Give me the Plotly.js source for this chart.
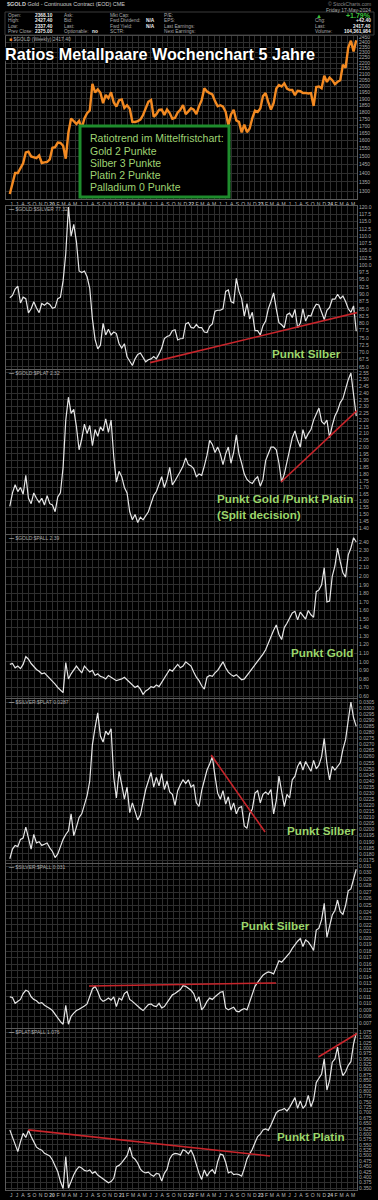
<!DOCTYPE html>
<html><head><meta charset="utf-8">
<script src="https://cdn.plot.ly/plotly-3.0.1.min.js"></script>
<style>html,body{margin:0;padding:0;background:#000;}#chart{width:378px;height:1200px;}</style>
</head><body><div id="chart"></div>
<script>
// ---------- DATA (bi-weekly closes) ----------
const dates = ['2019-05-24','2019-06-07','2019-06-21','2019-07-05','2019-07-19','2019-08-02','2019-08-16','2019-08-30','2019-09-13','2019-09-27',
'2019-10-11','2019-10-25','2019-11-08','2019-11-22','2019-12-06','2019-12-20','2020-01-03','2020-01-17','2020-01-31','2020-02-14',
'2020-02-28','2020-03-13','2020-03-27','2020-04-10','2020-04-24','2020-05-08','2020-05-22','2020-06-05','2020-06-19','2020-07-03',
'2020-07-17','2020-07-31','2020-08-14','2020-08-28','2020-09-11','2020-09-25','2020-10-09','2020-10-23','2020-11-06','2020-11-20',
'2020-12-04','2020-12-18','2021-01-01','2021-01-15','2021-01-29','2021-02-12','2021-02-26','2021-03-12','2021-03-26','2021-04-09',
'2021-04-23','2021-05-07','2021-05-21','2021-06-04','2021-06-18','2021-07-02','2021-07-16','2021-07-30','2021-08-13','2021-08-27',
'2021-09-10','2021-09-24','2021-10-08','2021-10-22','2021-11-05','2021-11-19','2021-12-03','2021-12-17','2021-12-31','2022-01-14',
'2022-01-28','2022-02-11','2022-02-25','2022-03-11','2022-03-25','2022-04-08','2022-04-22','2022-05-06','2022-05-20','2022-06-03',
'2022-06-17','2022-07-01','2022-07-15','2022-07-29','2022-08-12','2022-08-26','2022-09-09','2022-09-23','2022-10-07','2022-10-21',
'2022-11-04','2022-11-18','2022-12-02','2022-12-16','2022-12-30','2023-01-13','2023-01-27','2023-02-10','2023-02-24','2023-03-10',
'2023-03-24','2023-04-07','2023-04-21','2023-05-05','2023-05-19','2023-06-02','2023-06-16','2023-06-30','2023-07-14','2023-07-28',
'2023-08-11','2023-08-25','2023-09-08','2023-09-22','2023-10-06','2023-10-20','2023-11-03','2023-11-17','2023-12-01','2023-12-15',
'2023-12-29','2024-01-12','2024-01-26','2024-02-09','2024-02-23','2024-03-08','2024-03-22','2024-04-05','2024-04-19','2024-05-03',
'2024-05-17'];

const gold = [1284,1346,1400,1400,1427,1457,1524,1529,1499,1496,
1489,1505,1459,1463,1465,1481,1553,1557,1587,1584,
1566,1485,1654,1752,1735,1713,1735,1683,1753,1790,
1810,2020,1950,1975,1948,1866,1930,1905,1952,1872,
1840,1888,1895,1830,1850,1824,1728,1727,1733,1744,
1777,1831,1877,1891,1764,1783,1815,1817,1778,1818,
1792,1750,1757,1796,1816,1852,1783,1804,1828,1817,
1784,1842,1889,1985,1958,1945,1934,1882,1842,1850,
1840,1801,1703,1781,1816,1738,1728,1655,1709,1656,
1681,1754,1809,1800,1826,1921,1945,1874,1817,1867,
1983,2011,1999,2025,1981,1970,1971,1929,1964,1960,
1946,1947,1942,1945,1845,1994,1999,1984,2089,2036,
2072,2051,2018,2038,2050,2186,2159,2345,2413,2308,
2417];

const goldSilver = [88.8,89.6,91.8,92.8,87.0,89.0,88.5,83.6,85.0,87.4,
85.3,83.7,86.8,86.2,87.1,86.5,85.2,85.5,88.5,89.0,
94.6,104,120,110,114,108,98,97.5,98,96,
92,81.5,74.5,71.2,72.5,80,76,78,76,77,
76.5,73,71.5,73,68.5,67.2,65.5,67.8,69.3,69.8,
68.5,66.8,67.5,67.8,68.6,67.8,69.5,71.5,74.8,75.5,
75.8,77.5,77.8,74.3,74.7,74.8,79.8,80.3,78.6,78.4,
79.6,78.5,78.5,77,76.8,79,79.8,84.2,84.5,84.5,
85,91,91.5,87.5,87,95.5,91,88.5,82.5,86.8,
81.5,83.8,77.5,77.5,76,79.2,80.8,85,87.5,90.5,
85,80.2,79.5,78.5,83,83.5,82,84.8,78.5,80,
85,80.8,82.7,82.5,85,86.6,86.3,83.5,81.3,84.5,
85.5,88.3,88.3,90,88.5,89.4,87.5,85,83.8,86,
77.3];

const goldPlat = [1.56,1.66,1.72,1.67,1.70,1.65,1.79,1.62,1.58,1.66,
1.62,1.59,1.62,1.57,1.64,1.58,1.57,1.52,1.63,1.66,
1.85,2.20,2.37,2.25,2.28,2.15,1.98,2.06,2.17,2.10,
2.16,2.01,2.13,2.08,2.15,2.12,2.21,2.11,2.20,1.93,
1.74,1.82,1.78,1.70,1.66,1.52,1.46,1.50,1.44,1.48,
1.46,1.49,1.52,1.58,1.64,1.67,1.72,1.78,1.70,1.76,
1.85,1.72,1.75,1.78,1.82,1.86,1.92,1.87,1.86,1.84,
1.78,1.80,1.79,1.86,1.94,2.05,2.02,1.96,2.00,1.95,
1.87,1.95,2.00,1.88,1.96,2.09,1.95,1.88,1.80,1.76,
1.74,1.73,1.76,1.78,1.71,1.76,1.90,1.95,2.00,2.00,
1.98,1.88,1.74,1.80,1.90,1.98,2.07,2.12,2.05,2.00,
2.13,2.06,2.10,2.13,2.20,2.25,2.29,2.19,2.17,2.20,
2.07,2.16,2.23,2.27,2.33,2.36,2.44,2.50,2.55,2.38,
2.23];

const goldPall = [0.97,0.98,0.93,0.95,0.92,0.97,1.06,1.03,0.98,0.94,
0.91,0.89,0.86,0.87,0.84,0.81,0.77,0.74,0.70,0.67,
0.64,0.99,0.80,0.86,0.90,0.95,0.91,0.87,0.95,0.91,
0.88,0.90,0.84,0.86,0.83,0.82,0.80,0.84,0.82,0.80,
0.78,0.79,0.80,0.82,0.79,0.76,0.74,0.70,0.72,0.68,
0.62,0.66,0.68,0.71,0.70,0.73,0.71,0.76,0.80,0.86,
0.91,0.89,0.93,0.97,0.93,0.95,1.00,0.97,0.95,0.88,
0.82,0.78,0.72,0.68,0.82,0.84,0.83,0.87,0.90,0.95,
1.00,0.93,0.88,0.85,0.83,0.85,0.82,0.79,0.80,0.84,
0.88,0.92,0.96,1.01,1.05,1.09,1.14,1.22,1.30,1.37,
1.43,1.32,1.26,1.40,1.45,1.52,1.57,1.59,1.49,1.58,
1.54,1.50,1.60,1.55,1.52,1.82,1.84,1.90,2.10,1.70,
1.71,2.00,2.12,2.33,2.17,2.04,1.99,2.25,2.33,2.45,
2.40];

const silverPlat = [0.0176,0.0184,0.0187,0.0186,0.0192,0.0193,0.0202,0.0193,0.0184,0.0196,
0.0189,0.0190,0.0187,0.0188,0.0189,0.0185,0.0182,0.0177,0.0180,0.0186,
0.0192,0.0196,0.0199,0.0213,0.0195,0.0202,0.0210,0.0213,0.0220,0.0228,
0.0240,0.0270,0.0284,0.0296,0.0277,0.0272,0.0281,0.0278,0.0283,0.0243,
0.0226,0.0248,0.0237,0.0225,0.0235,0.0214,0.0222,0.0215,0.0208,0.0212,
0.0222,0.0233,0.0240,0.0247,0.0235,0.0243,0.0236,0.0246,0.0233,0.0240,
0.0231,0.0229,0.0220,0.0232,0.0237,0.0241,0.0238,0.0241,0.0235,0.0237,
0.0222,0.0219,0.0232,0.0240,0.0249,0.0254,0.0260,0.0244,0.0230,0.0225,
0.0232,0.0221,0.0227,0.0216,0.0222,0.0213,0.0218,0.0219,0.0203,0.0201,
0.0213,0.0217,0.0230,0.0232,0.0222,0.0229,0.0231,0.0229,0.0233,0.0213,
0.0224,0.0244,0.0230,0.0219,0.0229,0.0226,0.0241,0.0244,0.0252,0.0256,
0.0249,0.0256,0.0252,0.0248,0.0257,0.0250,0.0253,0.0260,0.0275,0.0254,
0.0241,0.0252,0.0249,0.0252,0.0255,0.0266,0.0274,0.0290,0.0305,0.0292,
0.0285];

const silverPall = [0.0110,0.0109,0.0100,0.0103,0.0106,0.0115,0.0120,0.0118,0.0110,0.0106,
0.0104,0.0100,0.0101,0.0097,0.0095,0.0092,0.0089,0.0083,0.0078,0.0072,
0.0068,0.0097,0.0068,0.0080,0.0085,0.0089,0.0091,0.0093,0.0096,0.0099,
0.0112,0.0122,0.0126,0.0118,0.0107,0.0103,0.0105,0.0108,0.0105,0.0110,
0.0095,0.0108,0.0105,0.0115,0.0118,0.0106,0.0103,0.0099,0.0095,0.0092,
0.0089,0.0093,0.0098,0.0099,0.0096,0.0095,0.0100,0.0093,0.0095,0.0101,
0.0108,0.0113,0.0115,0.0118,0.0121,0.0127,0.0126,0.0123,0.0120,0.0115,
0.0103,0.0110,0.0090,0.0095,0.0103,0.0108,0.0106,0.0110,0.0114,0.0117,
0.0118,0.0093,0.0090,0.0092,0.0094,0.0088,0.0087,0.0090,0.0092,0.0090,
0.0102,0.0112,0.0126,0.0132,0.0138,0.0143,0.0146,0.0148,0.0147,0.0145,
0.0155,0.0165,0.0163,0.0168,0.0172,0.0177,0.0184,0.0190,0.0195,0.0199,
0.0187,0.0197,0.0194,0.0188,0.0181,0.0212,0.0215,0.0228,0.0253,0.0201,
0.0218,0.0235,0.0242,0.0258,0.0240,0.0236,0.0250,0.0272,0.0275,0.0290,
0.0305];

const platPall = [0.620,0.585,0.552,0.519,0.565,0.604,0.585,0.618,0.589,0.562,
0.540,0.531,0.526,0.511,0.505,0.499,0.480,0.452,0.426,0.380,
0.348,0.496,0.350,0.380,0.412,0.434,0.449,0.443,0.432,0.428,
0.434,0.418,0.426,0.410,0.400,0.393,0.382,0.374,0.380,0.395,
0.449,0.455,0.468,0.485,0.500,0.540,0.494,0.484,0.465,0.438,
0.425,0.420,0.424,0.411,0.405,0.418,0.415,0.382,0.418,0.437,
0.485,0.505,0.511,0.509,0.503,0.528,0.522,0.509,0.527,0.500,
0.455,0.418,0.390,0.434,0.405,0.425,0.435,0.416,0.472,0.508,
0.503,0.470,0.420,0.426,0.412,0.415,0.412,0.405,0.441,0.485,
0.508,0.530,0.560,0.589,0.600,0.620,0.625,0.618,0.643,0.675,
0.700,0.710,0.713,0.720,0.708,0.725,0.745,0.770,0.720,0.755,
0.720,0.735,0.780,0.728,0.760,0.840,0.860,0.880,0.950,0.805,
0.850,0.935,0.950,1.005,0.920,0.872,0.890,0.920,0.937,1.020,
1.070];

// trend lines drawn on the chart (panel index, dates, values)
const trendPanels = [1, 2, 4, 5, 6, 6];
const trendDates = [['2021-05-30','2024-05-21'],['2023-04-18','2024-05-21'],['2022-04-16','2023-01-24'],
                    ['2020-07-13','2023-03-23'],['2019-08-29','2023-02-19'],['2023-10-31','2024-05-21']];
const trendValues = [[66.5,83.7],[1.741,2.27],[0.02614,0.0198],[0.01266,0.01312],[0.620,0.499],[0.959,1.068]];

const goldTicks = [1300,1350,1400,1450,1500,1550,1600,1650,1700,1750,1800,1850,1900,1950,2000,2050,2100,2150,2200,2250,2300,2350,2400,2450];
const monthLetters = ['J','F','M','A','M','J','J','A','S','O','N','D'];
const panelLabels = ['$GOLD (Weekly) 2417.40','$GOLD:$SILVER 77.32','$GOLD:$PLAT 2.32','$GOLD:$PALL 2.39',
                     '$SILVER:$PLAT 0.0287','$SILVER:$PALL 0.031','$PLAT:$PALL 1.076'];
const boxLines = ['Ratiotrend im Mittelfristchart:','Gold 2 Punkte','Silber 3 Punkte','Platin 2 Punkte','Palladium 0 Punkte'];
const titleText = 'Ratios Metallpaare Wochenchart 5 Jahre';

// ---------- LAYOUT ----------
const W = 378, H = 1200;
const FONT = 'Liberation Sans, Arial, sans-serif';
const panelPx = [[36,199],[206,369],[370,534],[535,698],[699,863],[864,1028],[1029,1190]];
const yRanges = [[Math.log10(1258),Math.log10(2460)],[64.31,120.34],[1.355,2.572],[0.577,2.482],
                 [0.017253,0.030747],[0.006229,0.031306],[0.3407,1.089]];
const yTickCfg = [null,{tick0:65,dtick:2.5,f:'.1f'},{tick0:1.40,dtick:0.05,f:'.2f'},{tick0:0.6,dtick:0.1,f:'.2f'},
                  {tick0:0.0175,dtick:0.0005,f:'.4f'},{tick0:0.007,dtick:0.001,f:'.3f'},{tick0:0.35,dtick:0.025,f:'.3f'}];
const xRange = ['2019-05-04','2024-05-21'];
const GRID = '#2e2e2e', BORDER = '#5a5a5a';

const monthVals = [], monthText = [];
for (let y = 2019; y <= 2024; y++) for (let m = 1; m <= 12; m++) {
  if ((y === 2019 && m < 6) || (y === 2024 && m > 5)) continue;
  monthVals.push(y + '-' + String(m).padStart(2,'0') + '-01');
  monthText.push(m === 1 ? '<b>' + String(y).slice(2) + '</b>' : monthLetters[m-1]);
}

const series = [gold, goldSilver, goldPlat, goldPall, silverPlat, silverPall, platPall];
const sfx = k => (k === 0 ? '' : String(k+1));

const traces = series.map((s,k) => ({
  x: dates, y: s, type: 'scatter', mode: 'lines',
  xaxis: 'x' + sfx(k), yaxis: 'y' + sfx(k), hoverinfo: 'skip',
  line: {color: k === 0 ? '#f38a22' : '#e6e6e6', width: k === 0 ? 2.4 : 1.2}
}));
trendPanels.forEach((p,i) => traces.push({
  x: trendDates[i], y: trendValues[i], type: 'scatter', mode: 'lines',
  xaxis: 'x' + sfx(p), yaxis: 'y' + sfx(p), hoverinfo: 'skip',
  line: {color: '#c8252b', width: 1.6}
}));

const layout = {
  width: W, height: H, margin: {l:0, r:0, t:0, b:0},
  paper_bgcolor: '#000', plot_bgcolor: '#000', showlegend: false,
  font: {family: FONT, color: '#aaa', size: 5},
  annotations: [], shapes: []
};

panelPx.forEach((pp,k) => {
  const xa = {
    type: 'date', range: xRange, domain: [6/W, 357/W], anchor: 'y' + sfx(k),
    tickmode: 'array', tickvals: monthVals, ticktext: monthText,
    showgrid: true, gridcolor: GRID, gridwidth: 1, zeroline: false,
    showline: true, linecolor: BORDER, linewidth: 1, mirror: true, ticks: '',
    showticklabels: (k === 0 || k === 6), tickfont: {size: 5, color: '#bbb', family: FONT},
    tickangle: 0, fixedrange: true
  };
  if (k > 0) xa.matches = 'x';
  const ya = {
    domain: [1 - pp[1]/H, 1 - pp[0]/H], range: yRanges[k], anchor: 'x' + sfx(k), side: 'right',
    showgrid: true, gridcolor: GRID, gridwidth: 1, zeroline: false,
    showline: true, linecolor: BORDER, linewidth: 1, mirror: true, ticks: '',
    tickfont: {size: 5, color: '#aaa', family: FONT}, fixedrange: true
  };
  if (k === 0) {
    ya.type = 'log'; ya.tickmode = 'array'; ya.tickvals = goldTicks; ya.ticktext = goldTicks.map(String);
  } else {
    ya.tickmode = 'linear'; ya.tick0 = yTickCfg[k].tick0; ya.dtick = yTickCfg[k].dtick; ya.tickformat = yTickCfg[k].f;
  }
  layout['xaxis' + sfx(k)] = xa;
  layout['yaxis' + sfx(k)] = ya;
  const marker = k === 0 ? '<span style="color:#f38a22">■</span> ' : '<span style="color:#fff">—</span> ';
  layout.annotations.push({text: marker + panelLabels[k], xref:'paper', yref:'paper', x: 7/W, y: 1 - (pp[0]+3)/H,
    xanchor:'left', yanchor:'middle', showarrow:false, font:{size:5, color:'#aaa', family: FONT}});
});

function A(text, px, py, size, color, anchor, extra) {
  const a = {text: text, xref:'paper', yref:'paper', x: px/W, y: 1 - py/H, xanchor: anchor || 'left',
    yanchor:'middle', showarrow:false, font:{size:size, color:color, family: FONT}};
  return Object.assign(a, extra || {});
}

// header
const hdr = layout.annotations;
hdr.push(A('<b>$GOLD</b> Gold - Continuous Contract (EOD) CME', 5, 4, 5.5, '#ccc'));
hdr.push(A('© StockCharts.com', 373, 4, 5, '#888', 'right'));
const rowsY = [15.5, 21, 26.5, 32];
['Open:','High:','Low:','Prev Close:'].forEach((t,i)=>hdr.push(A(t, 6, rowsY[i], 4.8, '#aaa')));
['2368.10','2427.40','2337.40','2375.00'].forEach((t,i)=>hdr.push(A('<b>'+t+'</b>', 55, rowsY[i], 4.8, '#eee', 'right')));
['Ask:','Bid:','Last:','Optionable:'].forEach((t,i)=>hdr.push(A(t, 62, rowsY[i], 4.8, '#aaa')));
hdr.push(A('<b>no</b>', 90, rowsY[3], 4.8, '#eee'));
['Mkt Cap:','Fwd Dividend:','Fwd Yield:','SCTR:'].forEach((t,i)=>hdr.push(A(t, 108, rowsY[i], 4.8, '#aaa')));
hdr.push(A('<b>N/A</b>', 144, rowsY[1], 4.8, '#eee'));
hdr.push(A('<b>N/A</b>', 144, rowsY[2], 4.8, '#eee'));
['P/E:','EPS:','Last Earnings:','Next Earnings:'].forEach((t,i)=>hdr.push(A(t, 162, rowsY[i], 4.8, '#aaa')));
hdr.push(A('Friday 17-May-2024', 373, 10, 5, '#aaa', 'right'));
hdr.push(A('▲', 314, rowsY[0], 6, '#3cc43c'));
hdr.push(A('<b>+1.79%</b>', 373, rowsY[0], 7, '#3cc43c', 'right'));
['Chg:','Last:','Volume:'].forEach((t,i)=>hdr.push(A(t, 313, rowsY[i+1], 4.8, '#aaa')));
['+42.40','2417.40','104,361,984'].forEach((t,i)=>hdr.push(A('<b>'+t+'</b>', 373, rowsY[i+1], 4.8, '#eee', 'right')));
layout.shapes.push({type:'rect', xref:'paper', yref:'paper', x0:5/W, x1:374/W, y0:1-35/H, y1:1-12/H,
  line:{color:'#3a3a3a', width:1}, fillcolor:'rgba(0,0,0,0)'});

// title (glyphs slightly compressed afterwards to the narrow width of the original)
hdr.push(A('<b>' + titleText + '</b>', 3, 54, 17, '#ffffff', 'left',
  {align:'left', font:{size:17, color:'#fff', family: FONT,
   shadow:'1px 1px 1px #000, -1px -1px 1px #000, 1px -1px 1px #000, -1px 1px 1px #000'}}));

// info box
layout.shapes.push({type:'rect', xref:'paper', yref:'paper', x0:80/W, x1:229/W, y0:1-197/H, y1:1-126/H,
  line:{color:'#1e8c2c', width:3}, fillcolor:'#000'});
boxLines.forEach((t,i)=>hdr.push(A(t, 88, 138.3 + 12.2*i, 10.5, '#9fd473')));

// green notes
const G = '#9bd66b';
const gfont = s => ({size:s, color:G, family: FONT, shadow:'1px 1px 1px #000'});
hdr.push(A('<b>Punkt Silber</b>', 306, 353, 11.7, G, 'center', {font:gfont(11.7)}));
hdr.push(A('<b>Punkt Gold /Punkt Platin</b>', 215, 499, 11.7, G, 'left', {font:gfont(11.7)}));
hdr.push(A('<b>(Split decision)</b>', 215, 514, 11.7, G, 'left', {font:gfont(11.7)}));
hdr.push(A('<b>Punkt Gold</b>', 322, 652, 11.7, G, 'center', {font:gfont(11.7)}));
hdr.push(A('<b>Punkt Silber</b>', 321, 830, 11.7, G, 'center', {font:gfont(11.7)}));
hdr.push(A('<b>Punkt Silber</b>', 275, 925, 11.7, G, 'center', {font:gfont(11.7)}));
hdr.push(A('<b>Punkt Platin</b>', 311, 1136, 11.7, G, 'center', {font:gfont(11.7)}));

Plotly.newPlot('chart', traces, layout, {staticPlot: true, displayModeBar: false}).then(gd => {
  gd.querySelectorAll('text.annotation-text').forEach(t => {
    if (t.textContent.indexOf('Ratios Metallpaare') === 0) {
      t.setAttribute('textLength', '310');
      t.setAttribute('lengthAdjust', 'spacingAndGlyphs');
    }
  });
});
</script>
</body></html>
